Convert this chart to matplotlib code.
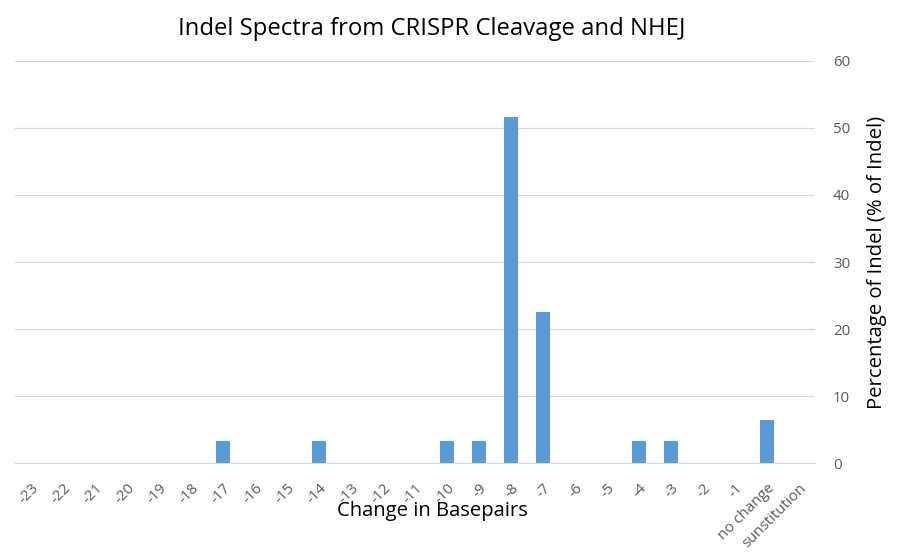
import numpy as np
import matplotlib.pyplot as plt

plt.rcParams['font.family'] = ['Open Sans', 'DejaVu Sans']

# categories and values (% of indel)
categories = [str(i) for i in range(-23, 0)] + ['no change', 'sunstitution']
values = [0, 0, 0, 0, 0, 0, 3.23, 0, 0, 3.23, 0, 0, 0, 3.23, 3.23,
          51.61, 22.58, 0, 0, 3.23, 3.23, 0, 0, 6.45, 0]

fig = plt.figure(figsize=(9.02, 5.59), dpi=100)
ax = fig.add_axes([0.0166, 0.1717, 0.8869, 0.7192])

x = np.arange(len(categories))
ax.bar(x, values, width=0.44, color='#5B9BD5', zorder=3)

ax.set_xlim(-0.5, len(categories) - 0.5)
ax.set_ylim(0, 60)
ax.set_yticks(range(0, 61, 10))
ax.yaxis.tick_right()
ax.yaxis.set_label_position('right')
ax.grid(axis='y', color='#D9D9D9', linewidth=0.9, zorder=0)

for s in ['top', 'left', 'right']:
    ax.spines[s].set_visible(False)
ax.spines['bottom'].set_color('#D9D9D9')

ax.set_xticks(x)
ax.set_xticklabels(categories, rotation=45, ha='right', rotation_mode='anchor')
ax.tick_params(axis='both', length=0, colors='#595959', labelsize=10.8)
ax.tick_params(axis='x', pad=13)
ax.tick_params(axis='y', pad=13)

ax.set_ylabel('Percentage of Indel (% of Indel)', fontsize=14.6, color='black', labelpad=12)
fig.text(0.479, 0.086, 'Change in Basepairs', ha='center', va='center', fontsize=14.6)
fig.suptitle('Indel Spectra from CRISPR Cleavage and NHEJ', x=0.479, y=0.97, fontsize=17.2)

fig.savefig('out.png', dpi=100)
